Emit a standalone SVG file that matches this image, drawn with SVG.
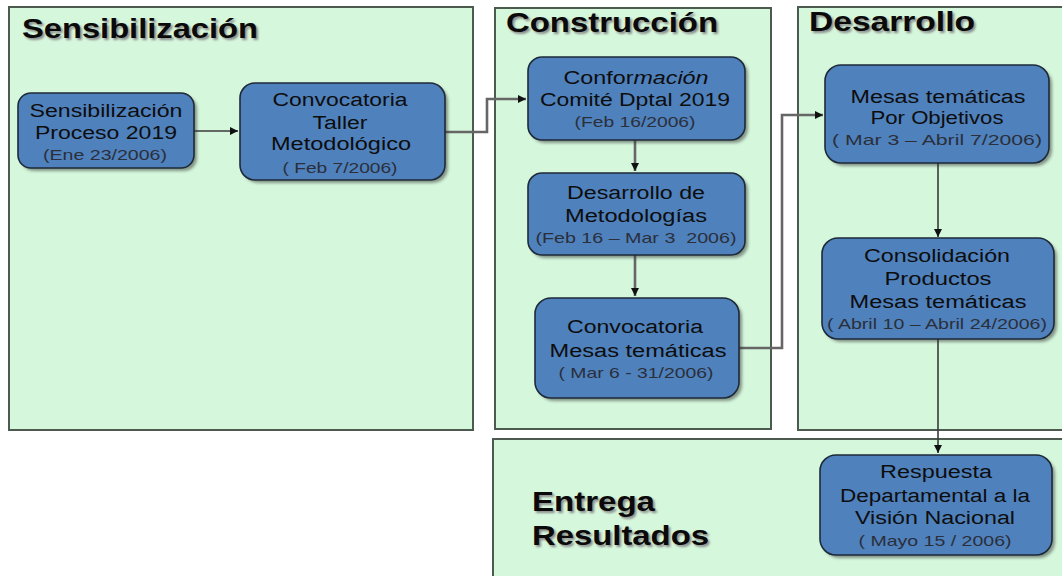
<svg xmlns="http://www.w3.org/2000/svg" width="1062" height="576" viewBox="0 0 1062 576">
<defs>
  <filter id="tshadow" x="-10%" y="-30%" width="120%" height="160%">
    <feGaussianBlur stdDeviation="1.2"/>
  </filter>
  <filter id="nshadow" x="-10%" y="-10%" width="130%" height="130%">
    <feGaussianBlur stdDeviation="1.5"/>
  </filter>
  <marker id="arr" markerWidth="10" markerHeight="10" refX="8" refY="5" orient="auto" markerUnits="userSpaceOnUse">
    <path d="M0,1 L8,5 L0,9 Z" fill="#111"/>
  </marker>
</defs>
<style>
  .panel { fill: #d5f7dc; stroke: #4d5a50; stroke-width: 2; }
  .title { font-family: "Liberation Sans", Arial, sans-serif; font-weight: bold; font-size: 28px; fill: #0a0a0a; }
  .tsh { font-family: "Liberation Sans", Arial, sans-serif; font-weight: bold; font-size: 28px; fill: #888; filter: url(#tshadow); }
  .box { fill: #4f81bd; stroke: #1e2a38; stroke-width: 1.6; }
  .bsh { fill: #333; opacity: 0.5; filter: url(#nshadow); }
  .t { font-family: "Liberation Sans", Arial, sans-serif; font-size: 18px; fill: #0d0d0d; text-anchor: middle; }
  .d { font-family: "Liberation Sans", Arial, sans-serif; font-size: 15px; fill: #2a2f3a; text-anchor: middle; }
  .c { fill: none; stroke: #3a3a3a; stroke-width: 1.6; }
  .cg { fill: none; stroke: #666; stroke-width: 2.6; }
</style>

<g id="panel-sensibilizacion">
  <rect class="panel" x="9" y="7" width="464" height="423"/>
  <text class="tsh" x="24" y="40" textLength="236" lengthAdjust="spacingAndGlyphs">Sensibilización</text>
  <text class="title" x="22" y="38" textLength="236" lengthAdjust="spacingAndGlyphs">Sensibilización</text>
</g>
<g id="panel-construccion">
  <rect class="panel" x="495" y="8" width="276" height="421"/>
  <text class="tsh" x="508" y="34" textLength="212" lengthAdjust="spacingAndGlyphs">Construcción</text>
  <text class="title" x="506" y="32" textLength="212" lengthAdjust="spacingAndGlyphs">Construcción</text>
</g>
<g id="panel-desarrollo">
  <rect class="panel" x="798" y="7" width="280" height="423"/>
  <text class="tsh" x="811" y="33" textLength="166" lengthAdjust="spacingAndGlyphs">Desarrollo</text>
  <text class="title" x="809" y="31" textLength="166" lengthAdjust="spacingAndGlyphs">Desarrollo</text>
</g>
<g id="panel-entrega">
  <rect class="panel" x="493" y="439" width="585" height="150"/>
  <text class="tsh" x="534" y="513" textLength="123" lengthAdjust="spacingAndGlyphs">Entrega</text>
  <text class="title" x="532" y="511" textLength="123" lengthAdjust="spacingAndGlyphs">Entrega</text>
  <text class="tsh" x="534" y="547" textLength="177" lengthAdjust="spacingAndGlyphs">Resultados</text>
  <text class="title" x="532" y="545" textLength="177" lengthAdjust="spacingAndGlyphs">Resultados</text>
</g>

<g id="connectors">
  <path class="c" d="M194,131 L238,131" marker-end="url(#arr)"/>
  <path class="cg" d="M445,132 L487,132 L487,99 L526,99" marker-end="url(#arr)"/>
  <path class="cg" d="M635,140 L635,171" marker-end="url(#arr)"/>
  <path class="cg" d="M635,255 L635,296" marker-end="url(#arr)"/>
  <path class="cg" d="M739,348 L782,348 L782,115 L823,115" marker-end="url(#arr)"/>
  <path class="c" d="M938,163 L938,237" marker-end="url(#arr)"/>
  <path class="c" d="M938,339 L938,453" marker-end="url(#arr)"/>
</g>

<g id="node-sensibilizacion-proceso">
  <rect class="bsh" x="21" y="96" width="176" height="75" rx="13"/>
  <rect class="box" x="18" y="93" width="176" height="75" rx="13"/>
  <text class="t" x="106" y="117" textLength="153" lengthAdjust="spacingAndGlyphs">Sensibilización</text>
  <text class="t" x="106" y="139" textLength="142" lengthAdjust="spacingAndGlyphs">Proceso 2019</text>
  <text class="d" x="105" y="160" textLength="124" lengthAdjust="spacingAndGlyphs">(Ene 23/2006)</text>
</g>
<g id="node-convocatoria-taller">
  <rect class="bsh" x="243" y="86" width="205" height="97" rx="15"/>
  <rect class="box" x="240" y="83" width="205" height="97" rx="15"/>
  <text class="t" x="340" y="106" textLength="135" lengthAdjust="spacingAndGlyphs">Convocatoria</text>
  <text class="t" x="340" y="129" textLength="55" lengthAdjust="spacingAndGlyphs">Taller</text>
  <text class="t" x="341" y="150" textLength="140" lengthAdjust="spacingAndGlyphs">Metodológico</text>
  <text class="d" x="340" y="173" textLength="115" lengthAdjust="spacingAndGlyphs">( Feb 7/2006)</text>
</g>
<g id="node-conformacion">
  <rect class="bsh" x="531" y="60" width="217" height="83" rx="14"/>
  <rect class="box" x="528" y="57" width="217" height="83" rx="14"/>
  <text class="t" x="636" y="84" textLength="145" lengthAdjust="spacingAndGlyphs">Confor<tspan font-style="italic">mación</tspan></text>
  <text class="t" x="635" y="106" textLength="190" lengthAdjust="spacingAndGlyphs">Comité Dptal 2019</text>
  <text class="d" x="635" y="127" textLength="121" lengthAdjust="spacingAndGlyphs">(Feb 16/2006)</text>
</g>
<g id="node-desarrollo-metodologias">
  <rect class="bsh" x="531" y="176" width="217" height="82" rx="14"/>
  <rect class="box" x="528" y="173" width="217" height="82" rx="14"/>
  <text class="t" x="636" y="199" textLength="138" lengthAdjust="spacingAndGlyphs">Desarrollo de</text>
  <text class="t" x="636" y="222" textLength="142" lengthAdjust="spacingAndGlyphs">Metodologías</text>
  <text class="d" x="636" y="243" textLength="201" lengthAdjust="spacingAndGlyphs">(Feb 16 – Mar 3&#160; 2006)</text>
</g>
<g id="node-convocatoria-mesas">
  <rect class="bsh" x="538" y="301" width="204" height="100" rx="16"/>
  <rect class="box" x="535" y="298" width="204" height="100" rx="16"/>
  <text class="t" x="635" y="333" textLength="136" lengthAdjust="spacingAndGlyphs">Convocatoria</text>
  <text class="t" x="638" y="357" textLength="177" lengthAdjust="spacingAndGlyphs">Mesas temáticas</text>
  <text class="d" x="636" y="378" textLength="155" lengthAdjust="spacingAndGlyphs">( Mar 6 - 31/2006)</text>
</g>
<g id="node-mesas-objetivos">
  <rect class="bsh" x="828" y="68" width="224" height="98" rx="16"/>
  <rect class="box" x="825" y="65" width="224" height="98" rx="16"/>
  <text class="t" x="938" y="103" textLength="175" lengthAdjust="spacingAndGlyphs">Mesas temáticas</text>
  <text class="t" x="937" y="124" textLength="133" lengthAdjust="spacingAndGlyphs">Por Objetivos</text>
  <text class="d" x="937" y="145" textLength="210" lengthAdjust="spacingAndGlyphs">( Mar 3 – Abril 7/2006)</text>
</g>
<g id="node-consolidacion">
  <rect class="bsh" x="825" y="241" width="232" height="101" rx="16"/>
  <rect class="box" x="822" y="238" width="232" height="101" rx="16"/>
  <text class="t" x="937" y="262" textLength="146" lengthAdjust="spacingAndGlyphs">Consolidación</text>
  <text class="t" x="938" y="285" textLength="107" lengthAdjust="spacingAndGlyphs">Productos</text>
  <text class="t" x="938" y="308" textLength="177" lengthAdjust="spacingAndGlyphs">Mesas temáticas</text>
  <text class="d" x="937" y="329" textLength="220" lengthAdjust="spacingAndGlyphs">( Abril 10 – Abril 24/2006)</text>
</g>
<g id="node-respuesta">
  <rect class="bsh" x="823" y="458" width="232" height="100" rx="16"/>
  <rect class="box" x="820" y="455" width="232" height="100" rx="16"/>
  <text class="t" x="936" y="478" textLength="112" lengthAdjust="spacingAndGlyphs">Respuesta</text>
  <text class="t" x="935" y="502" textLength="190" lengthAdjust="spacingAndGlyphs">Departamental a la</text>
  <text class="t" x="935" y="524" textLength="160" lengthAdjust="spacingAndGlyphs">Visión Nacional</text>
  <text class="d" x="935" y="546" textLength="153" lengthAdjust="spacingAndGlyphs">( Mayo 15 / 2006)</text>
</g>
</svg>
